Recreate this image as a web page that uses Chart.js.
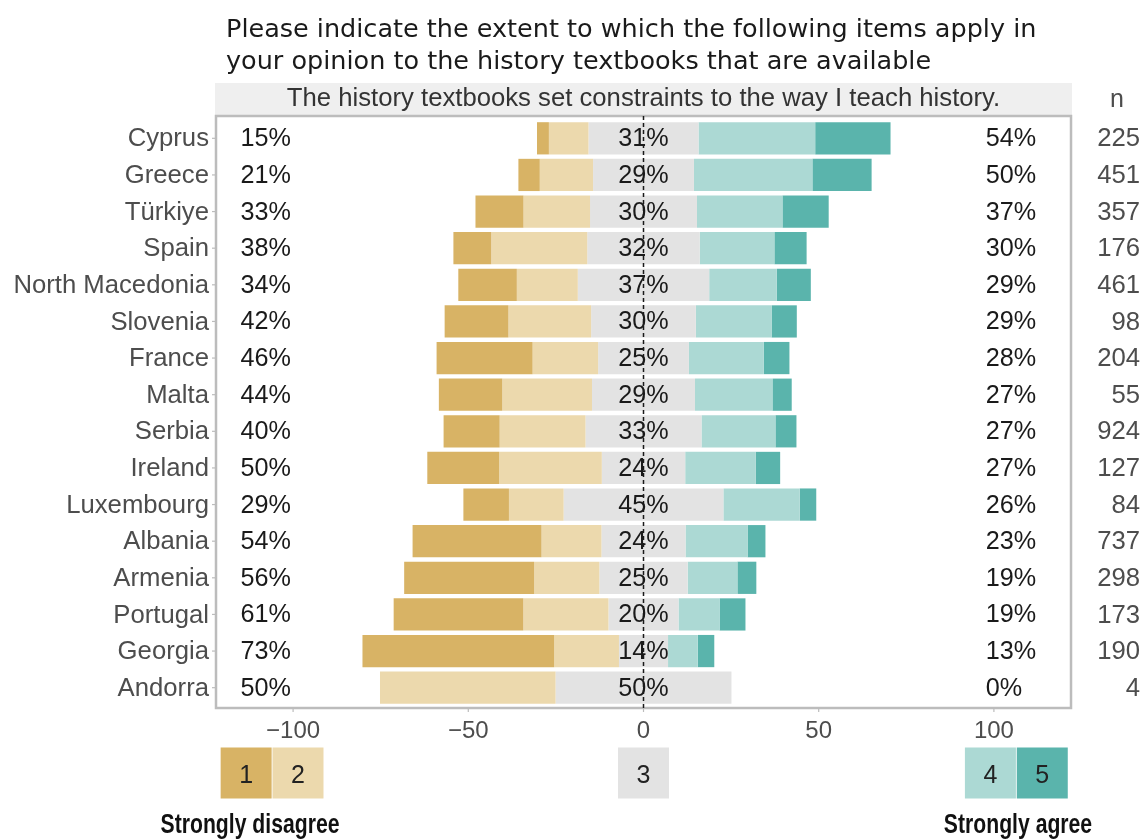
<!DOCTYPE html>
<html>
<head>
<meta charset="utf-8">
<script src="https://cdn.jsdelivr.net/npm/chart.js@4.4.0/dist/chart.umd.min.js"></script>
<style>
    html, body { margin: 0; padding: 0; background: #fff; }
    #wrap { width: 1146px; height: 840px; }
</style>
</head>
<body>
<div id="wrap"><canvas id="myChart" width="1146" height="840"></canvas></div>
<script>
const countries = ['Cyprus', 'Greece', 'Türkiye', 'Spain', 'North Macedonia', 'Slovenia', 'France', 'Malta',
    'Serbia', 'Ireland', 'Luxembourg', 'Albania', 'Armenia', 'Portugal', 'Georgia', 'Andorra'];
// share of answers per level (1 = strongly disagree ... 5 = strongly agree)
const level1 = [3.4, 6.1, 13.7, 10.8, 16.7, 18.2, 27.4, 18.1, 16.0, 20.5, 13.0, 36.8, 37.1, 37.0, 54.7, 0];
const level2 = [11.3, 15.2, 19.0, 27.4, 17.4, 23.6, 18.7, 25.6, 24.5, 29.3, 15.6, 17.1, 18.6, 24.3, 18.5, 50.1];
const level3 = [31.4, 28.8, 30.5, 32.1, 37.5, 29.9, 25.9, 29.4, 33.1, 23.8, 45.6, 24.0, 25.2, 20.0, 14.0, 50.2];
const level4 = [33.3, 33.8, 24.4, 21.3, 19.3, 21.6, 21.4, 22.1, 21.1, 20.1, 21.8, 17.7, 14.2, 11.7, 8.5, 0];
const level5 = [21.5, 16.9, 13.2, 9.2, 9.7, 7.2, 7.3, 5.5, 6.0, 7.0, 4.7, 5.1, 5.4, 7.4, 4.7, 0];

const disagreeLabels = ['15%', '21%', '33%', '38%', '34%', '42%', '46%', '44%', '40%', '50%', '29%', '54%', '56%', '61%', '73%', '50%'];
const neutralLabels = ['31%', '29%', '30%', '32%', '37%', '30%', '25%', '29%', '33%', '24%', '45%', '24%', '25%', '20%', '14%', '50%'];
const agreeLabels = ['54%', '50%', '37%', '30%', '29%', '29%', '28%', '27%', '27%', '27%', '26%', '23%', '19%', '19%', '13%', '0%'];
const nValues = ['225', '451', '357', '176', '461', '98', '204', '55', '924', '127', '84', '737', '298', '173', '190', '4'];

const xTicks = [-100, -50, 0, 50, 100];
const xTickLabels = ['\u2212100', '\u221250', '0', '50', '100'];
const levelNames = ['1', '2', '3', '4', '5'];
const colors = ['#d8b365', '#ecd9ad', '#e3e3e3', '#acd9d4', '#5ab4ac'];

const titleLines = ['Please indicate the extent to which the following items apply in',
    'your opinion to the history textbooks that are available'];
const stripText = 'The history textbooks set constraints to the way I teach history.';

// floating segments centred on the neutral share
const half = level3.map(v => v / 2);
const seg1 = countries.map((c, i) => [-(half[i] + level2[i] + level1[i]), -(half[i] + level2[i])]);
const seg2 = countries.map((c, i) => [-(half[i] + level2[i]), -half[i]]);
const seg3 = countries.map((c, i) => [-half[i], half[i]]);
const seg4 = countries.map((c, i) => [half[i], half[i] + level4[i]]);
const seg5 = countries.map((c, i) => [half[i] + level4[i], half[i] + level4[i] + level5[i]]);

const SANS = '"Liberation Sans", Arial, sans-serif';

function text(ctx, str, x, y, font, color, align, baseline) {
    ctx.font = font;
    ctx.fillStyle = color;
    ctx.textAlign = align || 'left';
    ctx.textBaseline = baseline || 'alphabetic';
    ctx.fillText(str, x, y);
}

const decorations = {
    id: 'decorations',
    beforeDatasetsDraw(chart) {
        const ctx = chart.ctx;
        const a = chart.chartArea;
        ctx.save();
        // facet strip
        ctx.fillStyle = '#efefef';
        ctx.fillRect(a.left - 1, 83, a.right - a.left + 2, a.top - 4 - 83);
        ctx.restore();
    },
    afterDatasetsDraw(chart) {
        const ctx = chart.ctx;
        const a = chart.chartArea;
        const x = chart.scales.x;
        const y = chart.scales.y;
        const top = a.top - 4;
        const bottom = a.bottom + 2;
        ctx.save();

        // panel frame
        ctx.strokeStyle = '#bcbcbc';
        ctx.lineWidth = 2.5;
        ctx.strokeRect(a.left, top, a.right - a.left, bottom - top);

        // ticks
        ctx.lineWidth = 1.2;
        xTicks.forEach(v => {
            const px = x.getPixelForValue(v);
            ctx.beginPath();
            ctx.moveTo(px, bottom);
            ctx.lineTo(px, bottom + 4);
            ctx.stroke();
        });
        countries.forEach((c, i) => {
            const py = y.getPixelForValue(i);
            ctx.beginPath();
            ctx.moveTo(a.left - 4, py);
            ctx.lineTo(a.left, py);
            ctx.stroke();
        });

        // zero line
        const x0 = x.getPixelForValue(0);
        ctx.strokeStyle = '#1a1a1a';
        ctx.lineWidth = 1.5;
        ctx.setLineDash([4, 3]);
        ctx.beginPath();
        ctx.moveTo(x0, top);
        ctx.lineTo(x0, bottom);
        ctx.stroke();
        ctx.setLineDash([]);

        // title and strip text
        titleLines.forEach((t, i) => text(ctx, t, 226, 37 + i * 31.5, '25.5px "DejaVu Sans", sans-serif', '#1a1a1a'));
        text(ctx, stripText, (a.left + a.right) / 2, 106, '25.7px ' + SANS, '#333333', 'center');
        text(ctx, 'n', 1117, 107, '25px ' + SANS, '#4d4d4d', 'center');

        // row labels
        const nameFont = '25.7px ' + SANS;
        const pctFont = '25.2px ' + SANS;
        countries.forEach((c, i) => {
            const py = y.getPixelForValue(i) + 1;
            text(ctx, c, 209, py, nameFont, '#4d4d4d', 'right', 'middle');
            text(ctx, disagreeLabels[i], x.getPixelForValue(-115), py, pctFont, '#1a1a1a', 'left', 'middle');
            text(ctx, neutralLabels[i], x0, py, pctFont, '#1a1a1a', 'center', 'middle');
            text(ctx, agreeLabels[i], x.getPixelForValue(97.7), py, pctFont, '#1a1a1a', 'left', 'middle');
            text(ctx, nValues[i], 1140, py, nameFont, '#4d4d4d', 'right', 'middle');
        });

        // x axis labels
        xTicks.forEach((v, i) => {
            text(ctx, xTickLabels[i], x.getPixelForValue(v), 737.5, '24px ' + SANS, '#4d4d4d', 'center');
        });

        // legend boxes
        const legendAt = [-113.4, -98.6, 0, 99.0, 113.8];
        legendAt.forEach((v, i) => {
            const cx = x.getPixelForValue(v);
            ctx.fillStyle = colors[i];
            ctx.fillRect(cx - 25.5, 747.5, 51, 51);
            text(ctx, levelNames[i], cx, 783, '25px ' + SANS, '#222222', 'center');
        });

        // condensed bold captions
        const caption = (str, cx) => {
            ctx.save();
            ctx.translate(cx, 833);
            ctx.scale(0.77, 1);
            text(ctx, str, 0, 0, 'bold 27.5px ' + SANS, '#111111', 'center');
            ctx.restore();
        };
        caption('Strongly disagree', 250);
        caption('Strongly agree', 1018);

        ctx.restore();
    }
};

const ctx = document.getElementById('myChart').getContext('2d');
const segments = [seg1, seg2, seg3, seg4, seg5];
const myChart = new Chart(ctx, {
    type: 'bar',
    data: {
        labels: countries,
        datasets: segments.map((s, i) => ({
            label: levelNames[i],
            data: s,
            backgroundColor: colors[i],
            borderWidth: 0,
            grouped: false,
            barPercentage: 0.88,
            categoryPercentage: 1
        }))
    },
    options: {
        indexAxis: 'y',
        responsive: false,
        animation: false,
        layout: {
            padding: { left: 216, right: 75, top: 120, bottom: 134 }
        },
        scales: {
            x: { display: false, min: -122, max: 122 },
            y: { display: false }
        },
        plugins: {
            legend: { display: false },
            tooltip: { enabled: false }
        }
    },
    plugins: [decorations]
});
</script>
</body>
</html>
